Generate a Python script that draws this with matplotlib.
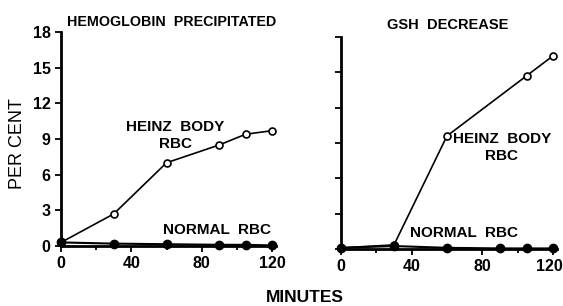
import matplotlib.pyplot as plt
import matplotlib.transforms as mtransforms

# datos
minutos = [0, 30, 60, 90, 105, 120]
hb_heinz = [0.3, 2.7, 7.0, 8.5, 9.4, 9.7]
hb_normal = [0.3, 0.2, 0.15, 0.1, 0.1, 0.05]

minutos_gsh = [0, 30, 60, 105, 120]
gsh_heinz = [0.1, 0.35, 9.6, 14.7, 16.4]
gsh_normal = [0.1, 0.25, 0.1, 0.05, 0.05, 0.05]

yticks = [0, 3, 6, 9, 12, 15, 18]
xticks = [0, 40, 80, 120]

plt.rcParams['font.family'] = ['Liberation Sans', 'DejaVu Sans']

fig = plt.figure(figsize=(5.63, 3.06), dpi=100)
W, H = 563, 306

def px_axes(x0, y0, x1, y1):
    return fig.add_axes([x0 / W, 1 - y1 / H, (x1 - x0) / W, (y1 - y0) / H])

# eje izquierdo: 0..120 -> 61..272 px ; 0..18 -> 246..32 px
ax1 = px_axes(61, 32, 61 + 211 * 122 / 120, 246)
ax2 = px_axes(341, 37, 341 + 212 * 122 / 120, 249)

for ax in (ax1, ax2):
    ax.set_xlim(0, 122)
    ax.set_ylim(0, 18)
    for s in ('top', 'right'):
        ax.spines[s].set_visible(False)
    ax.spines['left'].set_linewidth(2)
    ax.spines['bottom'].set_linewidth(2)
    ax.set_xticks(xticks)
    ax.set_xticks([20, 60, 100], minor=True)
    ax.set_yticks(yticks)
    ax.tick_params(axis='both', which='both', width=1.3, length=4, labelsize=11.5)
    ax.tick_params(axis='x', which='minor', length=3)
    for lab in ax.get_xticklabels() + ax.get_yticklabels():
        lab.set_fontweight('bold')

ax2.set_yticklabels([])
# el "120" de la derecha queda pegado al borde: se corre un poco
ultimo = ax2.get_xticklabels()[-1]
ultimo.set_transform(ultimo.get_transform() +
                     mtransforms.ScaledTranslation(-4 / 100, 0, fig.dpi_scale_trans))

ax1.plot(minutos, hb_heinz, '-o', color='black', lw=1.2, ms=5,
         mfc='white', mew=1.2, clip_on=False, zorder=3)
ax1.plot(minutos, hb_normal, '-o', color='black', lw=1.5, ms=6,
         clip_on=False, zorder=3)

ax2.plot(minutos_gsh, gsh_heinz, '-o', color='black', lw=1.2, ms=5,
         mfc='white', mew=1.2, clip_on=False, zorder=3)
ax2.plot(minutos, gsh_normal, '-o', color='black', lw=1.5, ms=6,
         clip_on=False, zorder=3)

kw = dict(fontsize=11, ha='center', va='center', linespacing=1.25, fontweight='bold')
ax1.text(63, 18.8, 'HEMOGLOBIN  PRECIPITATED', clip_on=False,
         **{**kw, 'fontsize': 10.3})
ax1.text(65, 9.3, 'HEINZ  BODY\nRBC', **kw)
ax1.text(89, 1.35, 'NORMAL  RBC', **kw)

ax2.text(60.6, 19.0, 'GSH  DECREASE', clip_on=False, **{**kw, 'fontsize': 10.5})
ax2.text(91, 8.6, 'HEINZ  BODY\nRBC', **kw)
ax2.text(69.6, 1.36, 'NORMAL  RBC', **kw)

fig.text(18 / W, 1 - 144 / H, 'PER CENT', rotation=90, fontsize=13,
         ha='center', va='center')
fig.text(305 / W, 1 - 297 / H, 'MINUTES', fontsize=12.5, ha='center', va='center',
         fontweight='bold')

fig.savefig('out.png', dpi=100)
